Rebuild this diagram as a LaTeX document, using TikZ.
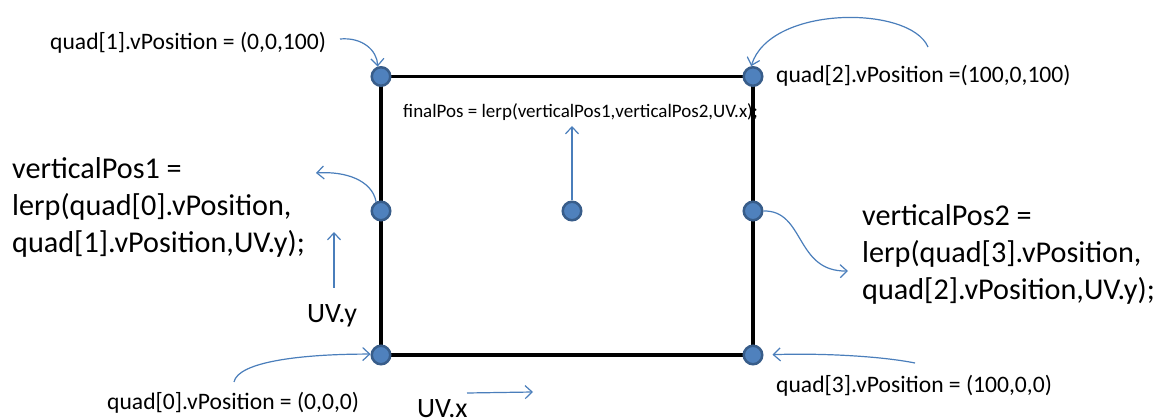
\documentclass[tikz,border=0pt]{standalone}
\usepackage{fontspec}
\setmainfont{Carlito}
\usetikzlibrary{arrows.meta}
\definecolor{dotfill}{HTML}{4F81BD}
\definecolor{dotdraw}{HTML}{385D8A}
\definecolor{arrowblue}{HTML}{4A7EBB}
\begin{document}
\begin{tikzpicture}[x=1pt,y=-1pt,
  vdot/.style={circle,fill=dotfill,draw=dotdraw,line width=2.5pt,minimum size=18.5pt,inner sep=0pt},
  lbl/.style={inner sep=0pt,anchor=base west,font=\fontsize{23.6}{28}\selectfont},
  big/.style={inner sep=0pt,anchor=base west,align=left,font=\fontsize{30.2}{37}\selectfont},
  uvlbl/.style={inner sep=0pt,anchor=base west,font=\fontsize{28}{32}\selectfont},
  conn/.style={draw=arrowblue,line width=1.2pt,-{Straight Barb[length=7pt,width=13pt]}},
  edge/.style={draw=black,line width=3.5pt}]
\useasboundingbox (0,0) rectangle (1157,419);
% texts
\node[lbl] (q1) at (50,50) {quad[1].vPosition = (0,0,100)};
\node[lbl] (q2) at (776,83) {quad[2].vPosition =(100,0,100)};
\node[lbl] (q0) at (107,410) {quad[0].vPosition = (0,0,0)};
\node[lbl] (q3) at (776,393) {quad[3].vPosition = (100,0,0)};
\node[big] (v1) at (12,253) {verticalPos1 =\\lerp(quad[0].vPosition,\\quad[1].vPosition,UV.y);};
\node[big] (v2) at (862,300) {verticalPos2 =\\lerp(quad[3].vPosition,\\quad[2].vPosition,UV.y);};
\node[uvlbl] (uvy) at (307,323) {UV.y};
\node[uvlbl] (uvx) at (417,418) {UV.x};
\node[lbl,font=\fontsize{19}{22}\selectfont] (fp) at (403,118) {finalPos = lerp(verticalPos1,verticalPos2,UV.x);};
% square
\coordinate (ctl) at (381,76.5);
\coordinate (ctr) at (753,76.5);
\coordinate (cbr) at (753,355);
\coordinate (cbl) at (381,355);
\draw[edge] (ctl) -- (ctr) -- (cbr) -- (cbl) -- cycle;
% dots
\node[vdot] (tl) at (ctl) {};
\node[vdot] (tr) at (ctr) {};
\node[vdot] (bl) at (cbl) {};
\node[vdot] (br) at (cbr) {};
\node[vdot] (lm) at (381,211) {};
\node[vdot] (rm) at (753,211) {};
\node[vdot] (c) at (572,211) {};
% free ends
\coordinate (a1) at (340,39);
\coordinate (a2) at (928,47);
\coordinate (a3) at (316,173);
\coordinate (a4s) at (334,288);
\coordinate (a4e) at (334,232);
\coordinate (a5) at (234,382);
\coordinate (a6s) at (467,393);
\coordinate (a6e) at (533,392);
\coordinate (a7) at (572,126);
\coordinate (a8) at (848,271);
\coordinate (a9) at (915,363);
% connectors
\draw[conn] (a1) .. controls (362,37) and (377,50) .. (tl.108);
\draw[conn] (a2) .. controls (910,5) and (770,5) .. (tr.100);
\draw[conn] (lm.118) .. controls (372,180) and (345,171) .. (a3);
\draw[conn] (a4s) -- (a4e);
\draw[conn] (a5) .. controls (238,362) and (300,354) .. (bl.175);
\draw[conn] (a6s) -- (a6e);
\draw[conn] (c.north) -- (a7);
\draw[conn] (rm.east) .. controls (805,210) and (795,272) .. (a8);
\draw[conn,shorten >=9pt] (a9) .. controls (880,356) and (820,353) .. (br.east);
\end{tikzpicture}
\end{document}
